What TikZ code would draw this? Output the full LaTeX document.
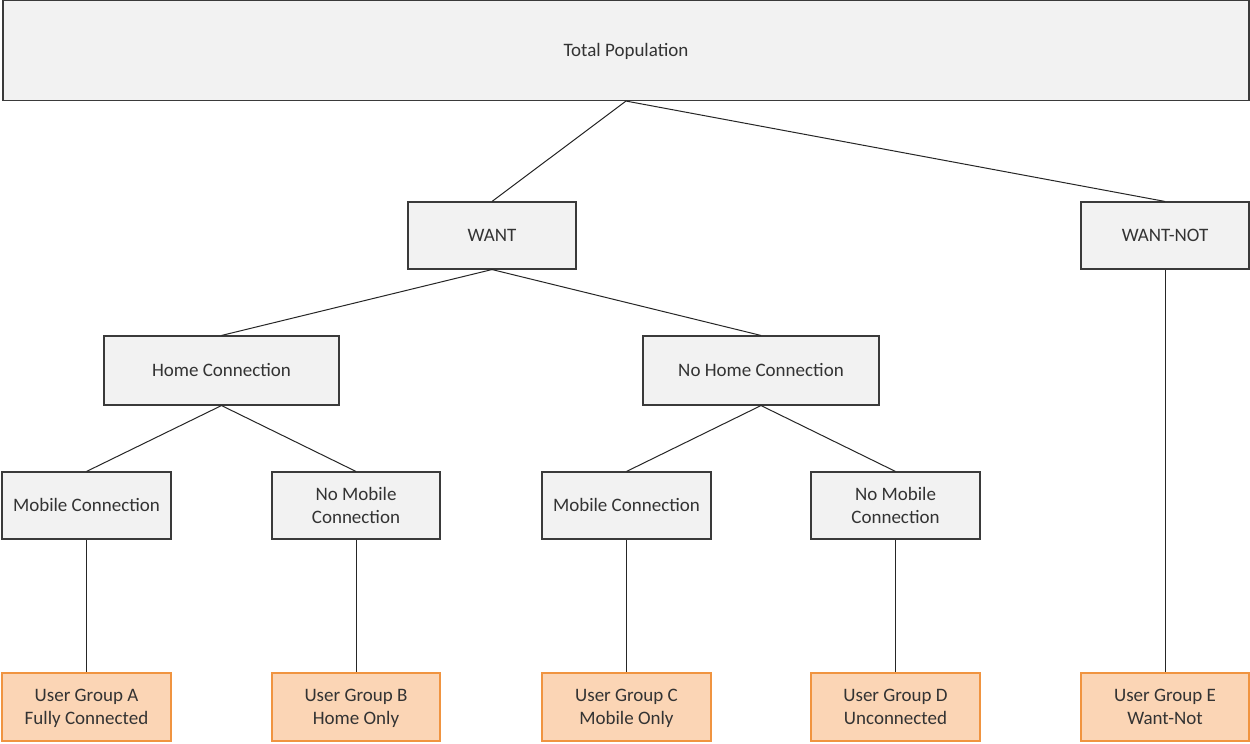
\documentclass[tikz,border=0pt]{standalone}
\usepackage{fontspec}
\setmainfont{Carlito}
\definecolor{boxfill}{HTML}{F2F2F2}
\definecolor{boxline}{HTML}{3A3A3A}
\definecolor{grpfill}{HTML}{FBD5B5}
\definecolor{grpline}{HTML}{F09440}
\definecolor{txt}{HTML}{333333}
% line strut: 19.1pt above the baseline, 6.9pt below
\newcommand{\lnst}{\rule[-6.9pt]{0pt}{26pt}}
\begin{document}
\begin{tikzpicture}[x=1pt,y=-1pt,
  every node/.style={font=\fontsize{19}{23}\selectfont, text=txt, align=center, inner sep=0pt},
  graybox/.style={draw=boxline, fill=boxfill, line width=1.1pt},
  orangebox/.style={draw=grpline, fill=grpfill, line width=1.1pt},
  link/.style={draw=black!85, line width=1pt}]
\useasboundingbox (0,0) rectangle (1250,744);
\fill[white] (0,0) rectangle (1250,744);

% first row: the whole population
\node[graybox, minimum width=1246pt, minimum height=100pt] (total) at (626,50.5) {\lnst Total Population};
% second row
\node[graybox, minimum width=168pt, minimum height=67pt] (want) at (492,235.5) {\lnst WANT};
\node[graybox, minimum width=168pt, minimum height=67pt] (wantnot) at (1165,235.5) {\lnst WANT-NOT};
% third row
\node[graybox, minimum width=235pt, minimum height=69pt] (home) at (221.5,370.5) {\lnst Home Connection};
\node[graybox, minimum width=236pt, minimum height=69pt] (nohome) at (761,370.5) {\lnst No Home Connection};
% fourth row
\node[graybox, minimum width=169pt, minimum height=67pt] (mob1) at (86.5,505.5) {\lnst Mobile Connection};
\node[graybox, minimum width=168pt, minimum height=67pt] (nomob1) at (356,505.5) {\lnst No Mobile\\\strut Connection};
\node[graybox, minimum width=169pt, minimum height=67pt] (mob2) at (626.5,505.5) {\lnst Mobile Connection};
\node[graybox, minimum width=169pt, minimum height=67pt] (nomob2) at (895.5,505.5) {\lnst No Mobile\\\strut Connection};
% user groups
\node[orangebox, minimum width=169pt, minimum height=68pt] (ga) at (86.5,707) {\lnst User Group A\\\strut Fully Connected};
\node[orangebox, minimum width=168pt, minimum height=68pt] (gb) at (356,707) {\lnst User Group B\\\strut Home Only};
\node[orangebox, minimum width=169pt, minimum height=68pt] (gc) at (626.5,707) {\lnst User Group C\\\strut Mobile Only};
\node[orangebox, minimum width=169pt, minimum height=68pt] (gd) at (895.5,707) {\lnst User Group D\\\strut Unconnected};
\node[orangebox, minimum width=168pt, minimum height=68pt] (ge) at (1165,707) {\lnst User Group E\\\strut Want-Not};

% tree connectors
\draw[link] (total.south) -- (want.north);
\draw[link] (total.south) -- (wantnot.north);
\draw[link] (want.south) -- (home.north);
\draw[link] (want.south) -- (nohome.north);
\draw[link] (home.south) -- (mob1.north);
\draw[link] (home.south) -- (nomob1.north);
\draw[link] (nohome.south) -- (mob2.north);
\draw[link] (nohome.south) -- (nomob2.north);
\draw[link] (mob1.south) -- (ga.north);
\draw[link] (nomob1.south) -- (gb.north);
\draw[link] (mob2.south) -- (gc.north);
\draw[link] (nomob2.south) -- (gd.north);
\draw[link] (wantnot.south) -- (ge.north);
\end{tikzpicture}
\end{document}
